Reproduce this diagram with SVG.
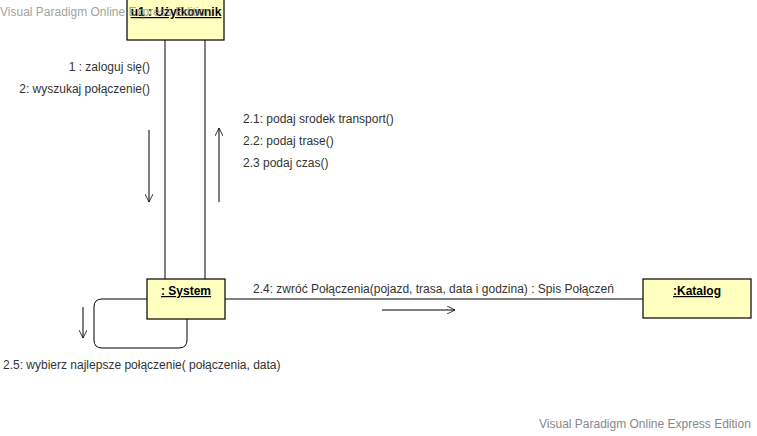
<svg xmlns="http://www.w3.org/2000/svg" width="757" height="436" viewBox="0 0 757 436">
<defs>
<style>
.node{fill:#ffffc0;stroke:#000;stroke-width:1.2}
.lbl{font-family:"Liberation Sans",Arial,sans-serif;font-size:12px;fill:#333}
.nm{font-family:"Liberation Sans",Arial,sans-serif;font-size:12px;font-weight:bold;fill:#000;text-decoration:underline;text-anchor:middle}
.wm{font-family:"Liberation Sans",Arial,sans-serif;font-size:12px;fill:#888}
.ln{fill:none;stroke:#000;stroke-width:1}
</style>
<marker id="open" viewBox="0 0 10 10" refX="10" refY="5" markerWidth="8" markerHeight="8" orient="auto" markerUnits="userSpaceOnUse">
<path d="M0,0 L10,5 L0,10" fill="none" stroke="#000" stroke-width="1"/>
</marker>
</defs>
<rect width="757" height="436" fill="#fff"/>
<g id="connectors">
<line class="ln" x1="165" y1="40" x2="165" y2="279"/>
<line class="ln" x1="205" y1="40" x2="205" y2="279"/>
<line class="ln" x1="225" y1="299" x2="643" y2="299"/>
<path class="ln" d="M187,319 L187,340 Q187,348 179,348 L102,348 Q94,348 94,340 L94,307 Q94,299 102,299 L147,299"/>
<line class="ln" x1="149" y1="130" x2="149" y2="202" marker-end="url(#open)"/>
<line class="ln" x1="219" y1="202" x2="219" y2="128" marker-end="url(#open)"/>
<line class="ln" x1="382" y1="310" x2="455" y2="310" marker-end="url(#open)"/>
<line class="ln" x1="83" y1="307" x2="83" y2="338" marker-end="url(#open)"/>
<text class="lbl" x="150" y="71" text-anchor="end">1 : zaloguj się()</text>
<text class="lbl" x="150" y="93" text-anchor="end">2: wyszukaj połączenie()</text>
<text class="lbl" x="243" y="123">2.1: podaj srodek transport()</text>
<text class="lbl" x="243" y="145">2.2: podaj trase()</text>
<text class="lbl" x="243" y="167">2.3 podaj czas()</text>
<text class="lbl" x="253" y="293">2.4: zwróć Połączenia(pojazd, trasa, data i godzina) : Spis Połączeń</text>
<text class="lbl" x="3" y="369">2.5: wybierz najlepsze połączenie( połączenia, data)</text>
</g>
<g id="uzytkownik">
<rect class="node" x="127" y="-1" width="97" height="41"/>
<text class="nm" x="176" y="16">u1 : Użytkownik</text>
</g>
<g id="system">
<rect class="node" x="147" y="279" width="78" height="40"/>
<text class="nm" x="186" y="295">: System</text>
</g>
<g id="katalog">
<rect class="node" x="643" y="279" width="108" height="39"/>
<text class="nm" x="697" y="295">:Katalog</text>
</g>
<text class="wm" x="0" y="16" fill-opacity="0.8">Visual Paradigm Online Express Edition</text>
<text class="wm" x="539" y="428">Visual Paradigm Online Express Edition</text>
</svg>
